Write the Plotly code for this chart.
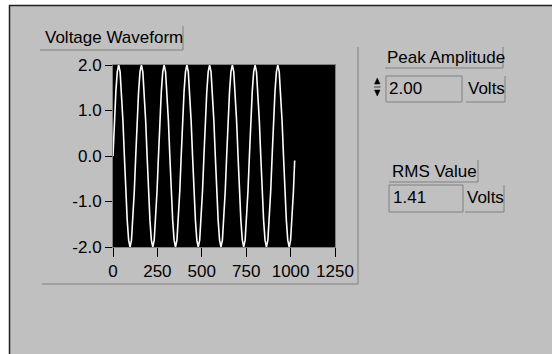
import plotly.graph_objects as go

sample_index = [
    0, 8, 16, 24, 32, 40, 48, 56, 64, 72, 80, 88, 96, 104, 112, 120,
    128, 136, 144, 152, 160, 168, 176, 184, 192, 200, 208, 216, 224, 232, 240, 248,
    256, 264, 272, 280, 288, 296, 304, 312, 320, 328, 336, 344, 352, 360, 368, 376,
    384, 392, 400, 408, 416, 424, 432, 440, 448, 456, 464, 472, 480, 488, 496, 504,
    512, 520, 528, 536, 544, 552, 560, 568, 576, 584, 592, 600, 608, 616, 624, 632,
    640, 648, 656, 664, 672, 680, 688, 696, 704, 712, 720, 728, 736, 744, 752, 760,
    768, 776, 784, 792, 800, 808, 816, 824, 832, 840, 848, 856, 864, 872, 880, 888,
    896, 904, 912, 920, 928, 936, 944, 952, 960, 968, 976, 984, 992, 1000, 1008, 1016,
    1023,
]
voltage = [
    0.0, 0.77, 1.41, 1.85, 2.0, 1.85, 1.41, 0.77, 0.0, -0.77, -1.41, -1.85, -2.0, -1.85, -1.41, -0.77,
    0.0, 0.77, 1.41, 1.85, 2.0, 1.85, 1.41, 0.77, 0.0, -0.77, -1.41, -1.85, -2.0, -1.85, -1.41, -0.77,
    0.0, 0.77, 1.41, 1.85, 2.0, 1.85, 1.41, 0.77, 0.0, -0.77, -1.41, -1.85, -2.0, -1.85, -1.41, -0.77,
    0.0, 0.77, 1.41, 1.85, 2.0, 1.85, 1.41, 0.77, 0.0, -0.77, -1.41, -1.85, -2.0, -1.85, -1.41, -0.77,
    0.0, 0.77, 1.41, 1.85, 2.0, 1.85, 1.41, 0.77, 0.0, -0.77, -1.41, -1.85, -2.0, -1.85, -1.41, -0.77,
    0.0, 0.77, 1.41, 1.85, 2.0, 1.85, 1.41, 0.77, 0.0, -0.77, -1.41, -1.85, -2.0, -1.85, -1.41, -0.77,
    0.0, 0.77, 1.41, 1.85, 2.0, 1.85, 1.41, 0.77, 0.0, -0.77, -1.41, -1.85, -2.0, -1.85, -1.41, -0.77,
    0.0, 0.77, 1.41, 1.85, 2.0, 1.85, 1.41, 0.77, 0.0, -0.77, -1.41, -1.85, -2.0, -1.85, -1.41, -0.77,
    -0.1,
]
x_ticks = [0, 250, 500, 750, 1000, 1250]
x_tick_labels = ["0", "250", "500", "750", "1000", "1250"]
y_ticks = [-2, -1, 0, 1, 2]
y_tick_labels = ["-2.0", "-1.0", "0.0", "1.0", "2.0"]

graph_label = "Voltage Waveform"
peak_label = "Peak Amplitude"
peak_value = "2.00"
rms_label = "RMS Value"
rms_value = "1.41"
unit_label = "Volts"

# ---- layout geometry (pixels) ----
W, H = 552, 354
L, R, T, B = 113, 335, 65, 247
FONT = "Liberation Sans"
BG = "#c0c0c0"
DARK = "#808080"


def px(x):
    return (x - L) / (R - L)


def py(y):
    return (B - y) / (B - T)


def hline(x0, x1, y, color=DARK, w=1):
    return dict(type="line", xref="paper", yref="paper", x0=px(x0), x1=px(x1),
                y0=py(y), y1=py(y), line=dict(color=color, width=w), layer="above")


def vline(x, y0, y1, color=DARK, w=1):
    return dict(type="line", xref="paper", yref="paper", x0=px(x), x1=px(x),
                y0=py(y0), y1=py(y1), line=dict(color=color, width=w), layer="above")


def rect(x0, y0, x1, y1, color=DARK, fill=None, w=1):
    d = dict(type="rect", xref="paper", yref="paper", x0=px(x0), x1=px(x1),
             y0=py(y0), y1=py(y1), line=dict(color=color, width=w), layer="above")
    if fill:
        d["fillcolor"] = fill
    return d


def tri(points, color="black"):
    path = "M " + " L ".join(f"{px(a)},{py(b)}" for a, b in points) + " Z"
    return dict(type="path", xref="paper", yref="paper", path=path,
                fillcolor=color, line=dict(color=color, width=0.5), layer="above")


def text(s, x, y, size=17):
    return dict(text=s, xref="paper", yref="paper", x=px(x), y=py(y),
                xanchor="left", yanchor="middle", showarrow=False,
                font=dict(family=FONT, size=size, color="black"))


fig = go.Figure()
fig.add_trace(go.Scatter(x=sample_index, y=voltage, mode="lines",
                         line=dict(color="white", width=1.6), hoverinfo="skip",
                         showlegend=False))

shapes = [
    # window area outside frame
    rect(-20, -20, 9, H + 20, color="white", fill="white", w=0),
    rect(-20, -20, W + 20, 5, color="white", fill="white", w=0),
    hline(9, W + 5, 5.5, color="#202020", w=1.5),
    vline(9.5, 5, H + 5, color="#202020", w=1.5),
    # graph frame
    hline(42, 358, 284), vline(358, 47, 284),
    # graph label box
    hline(40, 183, 50), vline(183, 26, 50),
    # peak amplitude label box
    hline(385, 503, 68), vline(503, 47, 68),
    # peak control box
    rect(386, 76, 462, 102),
    # volts box (peak)
    hline(466, 505, 102), vline(505, 76, 102),
    # increment arrows
    tri([(374.5, 84), (380, 84), (377.25, 78)]),
    tri([(374.5, 90), (380, 90), (377.25, 96)]),
    hline(374, 380.5, 87, color="#404040"),
    # rms label box
    hline(389, 478, 182), vline(478, 160, 182),
    # rms indicator box
    rect(389, 185, 463, 212),
    # volts box (rms)
    hline(465, 504, 212), vline(504, 185, 212),
]

annotations = [
    text(graph_label, 43, 37),
    text(peak_label, 385, 58),
    text(peak_value, 387, 88),
    text(unit_label, 466, 88),
    text(rms_label, 390, 171),
    text(rms_value, 391, 197),
    text(unit_label, 465, 197),
]

axis_common = dict(showgrid=False, zeroline=False, showline=True, linecolor=DARK,
                   linewidth=1, mirror=True, ticks="outside", tickcolor="black",
                   tickwidth=1, tickfont=dict(family=FONT, size=17, color="black"))

fig.update_layout(
    width=W, height=H, autosize=False,
    margin=dict(l=L, r=W - R, t=T, b=H - B, pad=0),
    paper_bgcolor=BG, plot_bgcolor="black",
    xaxis=dict(range=[0, 1250], tickmode="array", tickvals=x_ticks,
               ticktext=x_tick_labels, ticklen=9, **axis_common),
    yaxis=dict(range=[-2, 2], tickmode="array", tickvals=y_ticks,
               ticktext=y_tick_labels, ticklen=7, **axis_common),
    shapes=shapes, annotations=annotations, showlegend=False,
)

fig.write_html("out.html", config=dict(displayModeBar=False, staticPlot=True),
               post_script="document.body.style.margin='0';")
